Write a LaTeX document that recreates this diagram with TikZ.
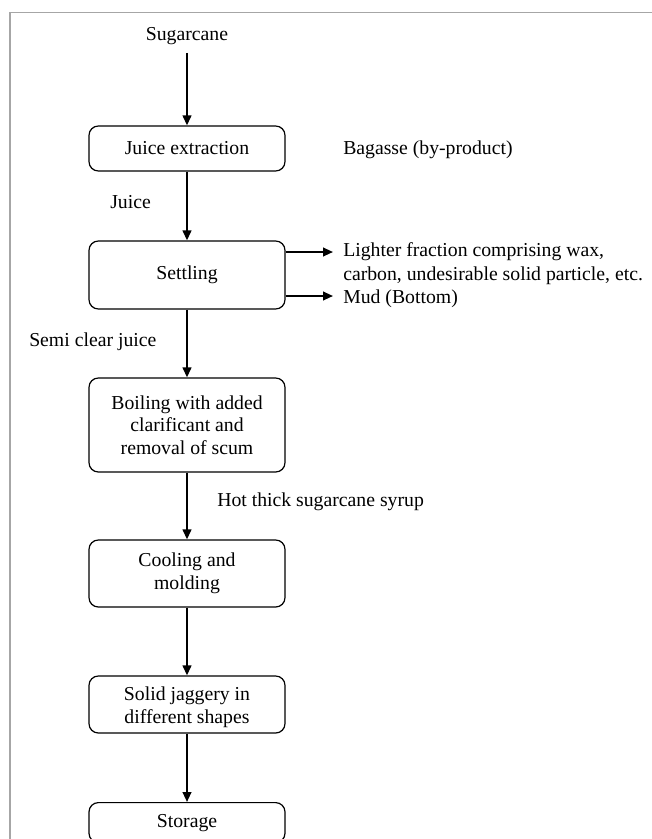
\documentclass[tikz,border=0pt]{standalone}
\usepackage{fontspec}
\setmainfont{Liberation Serif}
\usetikzlibrary{arrows.meta}
\begin{document}
\begin{tikzpicture}[x=0.75pt,y=-0.75pt,
  box/.style={draw, line width=0.9pt, rounded corners=7pt, minimum width=147pt, align=center, inner sep=0pt, font=\fontsize{14.8}{17}\selectfont},
  lbl/.style={font=\fontsize{14.8}{18}\selectfont, inner sep=0pt, align=left},
  arr/.style={line width=1.5pt, -{Triangle[length=7.5pt,width=6.5pt]}}]
\useasboundingbox (0,0) rectangle (652,839);
\clip (0,0) rectangle (652,839);
\draw[black!35, line width=1.1pt] (10,1000) -- (10,12.5) -- (700,12.5);

\node[lbl] (sugar) at (187,36) {Sugarcane};
\node[box, minimum height=33.75pt] (b1) at (187,148.5) {Juice extraction};
\node[box, minimum height=51pt] (b2) at (187,275) {Settling};
\node[box, minimum height=70.5pt] (b3) at (187,425) {Boiling with added\\clarificant and\\removal of scum};
\node[box, minimum height=50.25pt] (b4) at (187,573.5) {Cooling and\\molding};
\node[box, minimum height=42.75pt] (b5) at (187,704.5) {};
\begin{scope}
  \clip (89,678) rectangle (285,731);
  \node[box, draw=none, align=center] (b5t) at (187,707) {Solid jaggery in\\different shapes};
\end{scope}
\node[box, minimum height=30pt, anchor=north] (b6) at (187,802) {Storage};

\node[lbl, anchor=west] (bag) at (343,150) {Bagasse (by-product)};
\node[lbl, anchor=west] (juice) at (110,202) {Juice};
\node[lbl, anchor=west] (light) at (343,264) {Lighter fraction comprising wax,\\carbon, undesirable solid particle, etc.};
\node[lbl, anchor=west] (mud) at (343,299) {Mud (Bottom)};
\node[lbl, anchor=west] (semi) at (29,342) {Semi clear juice};
\node[lbl, anchor=west] (hot) at (217,502) {Hot thick sugarcane syrup};

\coordinate (e1) at (333,252);
\coordinate (e2) at (333,296);

\draw[arr, shorten <=6pt] (sugar) -- (b1);
\draw[arr] (b1) -- (b2);
\draw[arr] (b2) -- (b3);
\draw[arr] (b3) -- (b4);
\draw[arr] (b4) -- (b5);
\draw[arr] (b5) -- (b6);
\draw[arr] (b2.east |- e1) -- (e1);
\draw[arr] (b2.east |- e2) -- (e2);
\end{tikzpicture}
\end{document}
